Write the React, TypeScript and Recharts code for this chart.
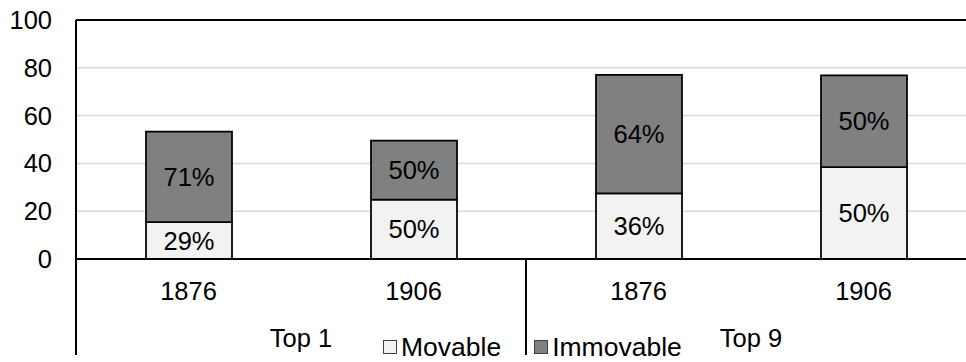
import React from 'react';
import {
  BarChart,
  Bar,
  XAxis,
  YAxis,
  CartesianGrid,
  ReferenceLine,
  LabelList,
  Legend,
} from 'recharts';

// Categories: year within each wealth group
const categories = ['1876', '1906', '1876', '1906'];
const groups = ['Top 1', 'Top 1', 'Top 9', 'Top 9'];

// Series values (stacked)
const movable = [15.4, 24.8, 27.5, 38.4];
const immovable = [37.9, 24.7, 49.5, 38.4];

const yTicks = [0, 20, 40, 60, 80, 100];

const FONT = '"Liberation Sans", Arial, sans-serif';
const MOVABLE_FILL = '#f2f2f2';
const IMMOVABLE_FILL = '#808080';

const pct = (part: number, total: number) => `${Math.round((part / total) * 100)}%`;

const data = categories.map((year, i) => {
  const total = movable[i] + immovable[i];
  return {
    year,
    group: groups[i],
    movable: movable[i],
    immovable: immovable[i],
    movableLabel: pct(movable[i], total),
    immovableLabel: pct(immovable[i], total),
  };
});

const CHART_W = 1000;
const CHART_H = 362;
const MARGIN = { top: 20, right: 24, bottom: 0, left: 0 };
const Y_AXIS_W = 76;
const X_AXIS_H = 103;
const PLOT_W = CHART_W - MARGIN.left - MARGIN.right - Y_AXIS_W;

// Two-level category axis: year labels, group labels and group separators
const CategoryTick = (props: any) => {
  const { x, y, payload, index } = props;
  const half =
    payload && typeof payload.offset === 'number' && payload.offset > 0
      ? payload.offset
      : PLOT_W / categories.length / 2;
  const lineBottom = y + 96;
  const first = index === 0 || groups[index] !== groups[index - 1];
  const last = index === categories.length - 1 || groups[index] !== groups[index + 1];
  return (
    <g>
      <text
        x={x}
        y={y + 41}
        textAnchor="middle"
        fontFamily={FONT}
        fontSize={25.5}
        fill="#000"
      >
        {payload.value}
      </text>
      {first && (
        <>
          <line x1={x - half} x2={x - half} y1={y} y2={lineBottom} stroke="#000" strokeWidth={2} />
          <text
            x={x + half}
            y={y + 88}
            textAnchor="middle"
            fontFamily={FONT}
            fontSize={25.5}
            fill="#000"
          >
            {groups[index]}
          </text>
        </>
      )}
      {last && (
        <line x1={x + half} x2={x + half} y1={y} y2={lineBottom} stroke="#000" strokeWidth={2} />
      )}
    </g>
  );
};

const LegendContent = () => {
  const items = [
    { name: 'Movable', fill: MOVABLE_FILL },
    { name: 'Immovable', fill: IMMOVABLE_FILL },
  ];
  return (
    <div
      style={{
        display: 'flex',
        alignItems: 'center',
        fontFamily: FONT,
        fontSize: 26.5,
        lineHeight: 1,
        color: '#000',
        whiteSpace: 'nowrap',
      }}
    >
      {items.map((it, i) => (
        <div
          key={it.name}
          style={{ display: 'flex', alignItems: 'center', marginLeft: i === 0 ? 0 : 33 }}
        >
          <span
            style={{
              display: 'inline-block',
              width: 12,
              height: 12,
              background: it.fill,
              border: '1px solid #404040',
              marginRight: 4,
            }}
          />
          <span>{it.name}</span>
        </div>
      ))}
    </div>
  );
};

export default function App() {
  return (
    <div
      style={{
        position: 'absolute',
        left: 0,
        top: 0,
        width: 966,
        height: 362,
        overflow: 'hidden',
        background: '#fff',
      }}
    >
      <BarChart width={CHART_W} height={CHART_H} data={data} margin={MARGIN} barSize={86}>
        <CartesianGrid vertical={false} stroke="#d9d9d9" strokeWidth={1.5} />
        <YAxis
          width={Y_AXIS_W}
          domain={[0, 100]}
          ticks={yTicks}
          interval={0}
          tickLine={false}
          tickSize={0}
          tickMargin={24}
          axisLine={{ stroke: '#000', strokeWidth: 2 }}
          tick={{ fontFamily: FONT, fontSize: 25.5, fill: '#000' }}
        />
        <XAxis
          dataKey="year"
          height={X_AXIS_H}
          interval={0}
          tickLine={false}
          tickSize={0}
          tickMargin={0}
          axisLine={{ stroke: '#000', strokeWidth: 2 }}
          tick={<CategoryTick />}
        />
        <ReferenceLine y={100} stroke="#000" strokeWidth={2} ifOverflow="extendDomain" />
        <Bar dataKey="movable" stackId="a" fill={MOVABLE_FILL} stroke="#000" strokeWidth={1.75} isAnimationActive={false}>
          <LabelList dataKey="movableLabel" position="center" fontFamily={FONT} fontSize={25.5} fill="#000" />
        </Bar>
        <Bar dataKey="immovable" stackId="a" fill={IMMOVABLE_FILL} stroke="#000" strokeWidth={1.75} isAnimationActive={false}>
          <LabelList dataKey="immovableLabel" position="center" fontFamily={FONT} fontSize={25.5} fill="#000" />
        </Bar>
        <Legend
          layout="vertical"
          align="center"
          verticalAlign="middle"
          content={<LegendContent />}
          wrapperStyle={{ position: 'absolute', left: 383, top: 334, width: 'auto', height: 'auto' }}
        />
      </BarChart>
    </div>
  );
}
